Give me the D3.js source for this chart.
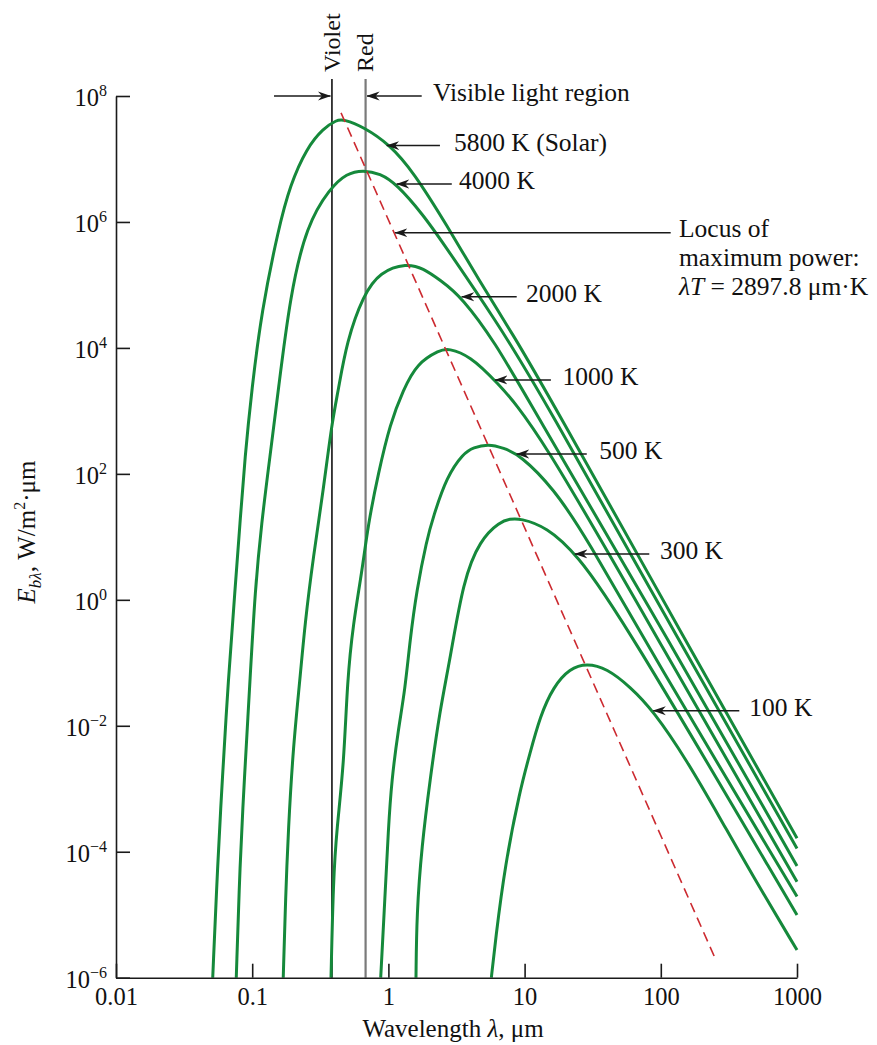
<!DOCTYPE html>
<html>
<head>
<meta charset="utf-8">
<script src="https://cdn.jsdelivr.net/npm/d3@7"></script>
<style>
  body { margin: 0; background: #fff; }
  svg text { font-family: "Liberation Serif", "Times New Roman", serif; fill: #111; }
</style>
</head>
<body>
<svg id="chart" width="877" height="1045"></svg>
<script>
// Blackbody emissive power: [wavelength um, E W/m2.um]
var curve5800 = [[0.0513,1e-6],[0.0558,6.6e-5],[0.0603,1.38e-3],[0.0667,0.0533],[0.0748,1.43],[0.0813,16.4],
  [0.0885,188],[0.0992,2150],[0.117,3.76e4],[0.156,7.93e5],[0.19,3.86e6],[0.251,1.49e7],[0.333,3.07e7],
  [0.417,4.16e7],[0.467,4.27e7],[0.654,3.25e7],[1.03,1.67e7],[1.52,6.28e6],[2.68,8.95e5],[4.7,1.12e5],
  [8.26,1.6e4],[14.5,2020],[159,0.19],[1000,1.64e-4]];
var curve4000 = [[0.0764,1e-6],[0.0813,6.6e-5],[0.0875,1.38e-3],[0.0964,0.0533],[0.105,1.43],[0.117,16.4],
  [0.135,188],[0.1555,2150],[0.19,6.92e4],[0.251,8.95e5],[0.372,3.42e6],[0.494,5.93e6],[0.654,6.68e6],
  [0.868,5.88e6],[1.15,4.0e6],[1.8,1.29e6],[2.39,5.5e5],[6.24,2.6e4],[12.97,2020],[142,0.19],[1000,1.13e-4]];
var curve2000 = [[0.169,1e-6],[0.176,1.94e-5],[0.184,2.22e-4],[0.2,4.66e-3],[0.224,0.0533],[0.244,0.425],
  [0.281,4.84],[0.333,55.5],[0.384,635],[0.429,2150],[0.494,1.26e4],[0.654,6.92e4],[0.868,1.62e5],
  [1.363,2.21e5],[1.8,1.84e5],[2.39,1.2e5],[3.45,6.5e4],[6.24,1.11e4],[9.78,2020],[120,0.19],[1000,5.94e-5]];
var curve1000 = [[0.379,1e-6],[0.394,3.56e-5],[0.417,2.22e-4],[0.472,2.54e-3],[0.499,0.0533],[0.552,0.425],
  [0.637,2.64],[0.712,16.4],[0.843,102],[1.03,635],[1.286,2150],[1.614,5660],[2.39,9270],[2.75,9860],
  [3.97,7450],[6.06,3100],[12.27,561],[98.6,0.206],[1000,3.35e-5]];
var curve500 = [[0.878,1e-6],[0.944,1.94e-5],[0.998,2.22e-4],[1.057,1.38e-3],[1.18,8.57e-3],[1.324,0.037],
  [1.441,0.23],[1.614,1.43],[1.911,8.91],[2.136,20.9],[2.68,90.2],[3.55,212],[4.2,262],[5.415,298],
  [6.98,258],[9.25,200],[16.25,59.7],[28.6,9.6],[83.3,0.16],[1000,1.94e-5]];
var curve300 = [[1.594,1e-6],[1.614,1.05e-5],[1.756,1.2e-4],[2.02,1.38e-3],[2.39,0.0178],[2.83,0.111],
  [3.55,2.07],[4.7,8.91],[6.6,17.4],[7.81,19.2],[9.25,19.7],[14.5,14.4],[24.1,5.35],[50.2,0.596],[1000,9.9e-6]];
var curve100 = [[5.7,1e-6],[6.11,3.97e-6],[7.18,6.17e-5],[9.25,9.57e-4],[10.95,3.66e-3],[12.97,0.014],
  [16.25,0.0418],[21.5,0.0818],[28.6,0.0982],[40.1,0.0818],[59.4,0.0418],[88.1,0.0174],[155,2.86e-3],
  [272,3.44e-4],[478,3.97e-5],[1000,2.75e-6]];

var curves = [curve5800, curve4000, curve2000, curve1000, curve500, curve300, curve100];

// Locus of maximum power (dashed)
var locus = [[0.449,5.4e7],[254,1.9e-6]];

// Visible band edges, um
var violetEdge = 0.385, redEdge = 0.68;

var xTicks = [0.01, 0.1, 1, 10, 100, 1000];
var xTickLabels = ['0.01', '0.1', '1', '10', '100', '1000'];
var yTicks = [1e8, 1e6, 1e4, 1e2, 1, 1e-2, 1e-4, 1e-6];
var yTickExps = ['8', '6', '4', '2', '0', '\u22122', '\u22124', '\u22126'];

// Curve labels: arrow head [um, E], arrow tail um, text start um
var curveLabels = [
  {text: '5800 K (Solar)', head: [0.972, 1.63e7], tail: 2.39, at: 3.03},
  {text: '4000 K', head: [1.15, 4.0e6], tail: 2.92, at: 3.30},
  {text: '2000 K', head: [3.45, 6.5e4], tail: 8.75, at: 10.24},
  {text: '1000 K', head: [6.06, 3100], tail: 15.6, at: 19.0},
  {text: '500 K', head: [8.75, 207], tail: 28.6, at: 35.4},
  {text: '300 K', head: [23.4, 5.35], tail: 82.3, at: 98.6},
  {text: '100 K', head: [88.1, 0.0174], tail: 377, at: 446.7}
];

(function createChart() {
  var svg = d3.select('#chart');

  var x = d3.scaleLog().domain([0.01, 1000]).range([116, 797]),
      y = d3.scaleLog().domain([1e-6, 1e8]).range([977.7, 96]);

  var green = '#15893b',
      ink = '#1a1a1a';

  svg.append('rect').attr('width', 877).attr('height', 1045).attr('fill', '#fff');

  // barbed arrow head, tip at the end of the line
  svg.append('defs').append('marker')
      .attr('id', 'arrow')
      .attr('viewBox', '0 0 13 10')
      .attr('refX', 12.5).attr('refY', 5)
      .attr('markerWidth', 13).attr('markerHeight', 10)
      .attr('markerUnits', 'userSpaceOnUse')
      .attr('orient', 'auto')
    .append('path')
      .attr('d', 'M13,5 L0,0.5 L4,5 L0,9.5 Z')
      .attr('fill', ink);

  // Visible band lines
  svg.append('line')
      .attr('x1', x(violetEdge)).attr('x2', x(violetEdge))
      .attr('y1', 79).attr('y2', y(1e-6))
      .style('stroke', '#111').style('stroke-width', 1.6);
  svg.append('line')
      .attr('x1', x(redEdge)).attr('x2', x(redEdge))
      .attr('y1', 79).attr('y2', y(1e-6))
      .style('stroke', '#7a7a7a').style('stroke-width', 2.2);

  svg.append('text')
      .attr('transform', 'translate(' + (x(violetEdge) + 8) + ',72) rotate(-90)')
      .style('font-size', '24px')
      .text('Violet');
  svg.append('text')
      .attr('transform', 'translate(' + (x(redEdge) + 7) + ',72) rotate(-90)')
      .style('font-size', '24px')
      .text('Red');

  // Curves
  var line = d3.line()
      .x(function(d) { return x(d[0]); })
      .y(function(d) { return y(d[1]); })
      .curve(d3.curveBasis);

  svg.append('g').selectAll('path')
    .data(curves)
    .enter().append('path')
      .attr('d', line)
      .style('fill', 'none')
      .style('stroke', green)
      .style('stroke-width', 3)
      .style('stroke-linejoin', 'round');

  // Locus
  svg.append('path')
      .attr('d', d3.line().x(function(d) { return x(d[0]); }).y(function(d) { return y(d[1]); })(locus))
      .style('fill', 'none')
      .style('stroke', '#cc2a30')
      .style('stroke-width', 1.6)
      .style('stroke-dasharray', '10,6');

  // Axes
  var xAxis = d3.axisBottom(x)
      .tickValues(xTicks)
      .tickSizeInner(-14)
      .tickSizeOuter(0)
      .tickFormat(function(d, i) { return xTickLabels[i]; })
      .tickPadding(10);
  var gx = svg.append('g')
      .attr('transform', 'translate(0,' + y(1e-6) + ')')
      .call(xAxis);
  gx.selectAll('text')
      .style('font-size', '24.5px')
      .style('font-family', '"Liberation Serif", serif')
      .attr('fill', ink);

  var yAxis = d3.axisLeft(y)
      .tickValues(yTicks)
      .tickSizeInner(-14)
      .tickSizeOuter(0)
      .tickFormat('');
  var gy = svg.append('g')
      .attr('transform', 'translate(' + x(0.01) + ',0)')
      .call(yAxis);

  [gx, gy].forEach(function(g) {
    g.select('.domain').style('stroke', ink).style('stroke-width', 1.6);
    g.selectAll('.tick line').style('stroke', ink).style('stroke-width', 1.6);
  });

  // y tick labels 10^n
  var yl = svg.append('g').selectAll('text')
    .data(yTicks)
    .enter().append('text')
      .attr('x', 107)
      .attr('y', function(d) { return y(d) + 10; })
      .attr('text-anchor', 'end')
      .style('font-size', '24.5px');
  yl.append('tspan').text('10');
  yl.append('tspan')
      .attr('dy', -10)
      .style('font-size', '16px')
      .text(function(d, i) { return yTickExps[i]; });

  // axis titles
  svg.append('text')
      .attr('x', 453).attr('y', 1037)
      .attr('text-anchor', 'middle')
      .style('font-size', '25px')
      .html('Wavelength <tspan font-style="italic">\u03bb</tspan>, \u03bcm');

  var ylab = svg.append('text')
      .attr('transform', 'translate(35,532) rotate(-90)')
      .attr('text-anchor', 'middle')
      .style('font-size', '25px');
  ylab.append('tspan').attr('font-style', 'italic').text('E');
  ylab.append('tspan').attr('font-style', 'italic').attr('dy', 6).style('font-size', '17px').text('b\u03bb');
  ylab.append('tspan').attr('dy', -6).text(', W/m');
  ylab.append('tspan').attr('dy', -10).style('font-size', '16px').text('2');
  ylab.append('tspan').attr('dy', 10).text('\u00b7\u03bcm');

  function arrow(x1, y1, x2, y2) {
    svg.append('line')
        .attr('x1', x1).attr('y1', y1)
        .attr('x2', x2).attr('y2', y2)
        .style('stroke', ink).style('stroke-width', 1.5)
        .attr('marker-end', 'url(#arrow)');
  }

  // Visible light region arrows
  arrow(x(0.1446), y(1e8), x(violetEdge) - 1.5, y(1e8));
  arrow(x(1.756), y(1e8), x(redEdge) + 1.5, y(1e8));
  svg.append('text')
      .attr('x', x(2.126)).attr('y', y(1e8) + 5)
      .style('font-size', '25.5px')
      .text('Visible light region');

  // Curve labels
  curveLabels.forEach(function(c) {
    arrow(x(c.tail), y(c.head[1]), x(c.head[0]), y(c.head[1]));
    svg.append('text')
        .attr('x', x(c.at)).attr('y', y(c.head[1]) + 5)
        .style('font-size', '25.5px')
        .text(c.text);
  });

  // Locus label
  var locusHead = [1.118, 6.75e5];
  arrow(x(118.2), y(locusHead[1]), x(locusHead[0]), y(locusHead[1]));
  var lt = svg.append('text')
      .attr('x', x(136)).attr('y', y(locusHead[1]) + 4)
      .style('font-size', '25.5px');
  lt.append('tspan').text('Locus of');
  lt.append('tspan').attr('x', x(136)).attr('dy', 29.5).text('maximum power:');
  var l3 = lt.append('tspan').attr('x', x(136)).attr('dy', 28.5);
  l3.append('tspan').attr('font-style', 'italic').text('\u03bbT');
  l3.append('tspan').text(' = 2897.8 \u03bcm\u00b7K');
}());
</script>
</body>
</html>
